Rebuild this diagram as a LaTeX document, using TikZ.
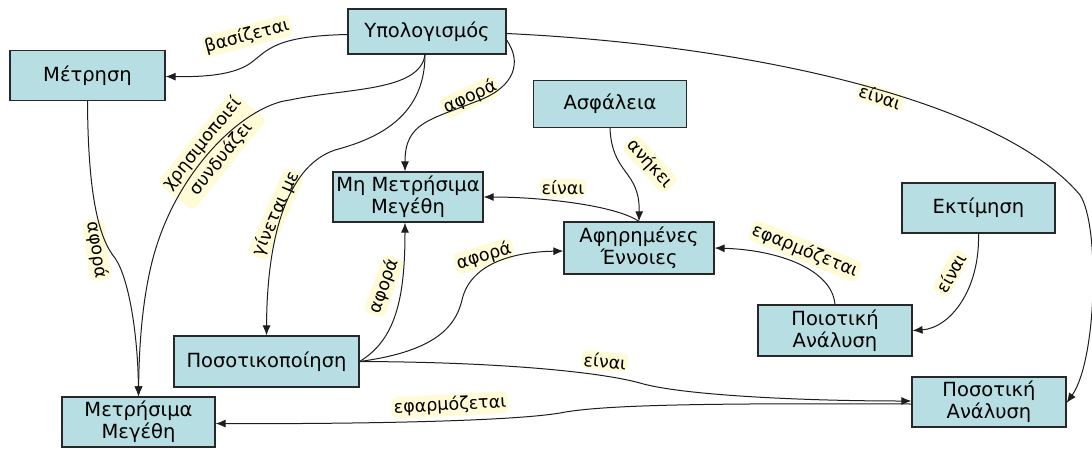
\documentclass[tikz,border=0pt]{standalone}
\usepackage{fontspec}
\setmainfont{DejaVu Sans}
\usetikzlibrary{arrows.meta}
\definecolor{boxfill}{RGB}{183,222,226}
\definecolor{boxline}{RGB}{40,40,40}
\definecolor{glow}{RGB}{255,251,214}
\definecolor{wire}{RGB}{30,30,30}
\tikzset{
  concept/.style={draw=boxline, line width=1.2pt, fill=boxfill, align=center,
    inner sep=0pt, font=\fontsize{19.5}{22}\selectfont},
  rel/.style={fill=glow, rounded corners=5pt, inner sep=2pt, align=center,
    font=\fontsize{17.5}{24}\selectfont},
  arr/.style={draw=wire, line width=1pt, -{Latex[length=10pt,width=8pt]}},
}
\begin{document}
\begin{tikzpicture}[x=1pt,y=-1pt]
\useasboundingbox (0,0) rectangle (1092,448);
\fill[white] (0,0) rectangle (1092,448);

% concepts
\node[concept, minimum width=155pt, minimum height=50pt] (metr)  at (87.5,75.5)  {Μέτρηση};
\node[concept, minimum width=158pt, minimum height=45pt] (ypol)  at (427,31.5)   {Υπολογισμός};
\node[concept, minimum width=153pt, minimum height=47pt] (asf)   at (610,104)    {Ασφάλεια};
\node[concept, minimum width=150pt, minimum height=50pt] (mmm)   at (408,197)    {Μη Μετρήσιμα\\Μεγέθη};
\node[concept, minimum width=150pt, minimum height=52pt] (afe)   at (639,248)    {Αφηρημένες\\Έννοιες};
\node[concept, minimum width=153pt, minimum height=50pt] (ekt)   at (978.5,208)  {Εκτίμηση};
\node[concept, minimum width=154pt, minimum height=51pt] (poi)   at (835,330.5)  {Ποιοτική\\Ανάλυση};
\node[concept, minimum width=154pt, minimum height=50pt] (posan) at (989,402)    {Ποσοτική\\Ανάλυση};
\node[concept, minimum width=185pt, minimum height=51pt] (pos)   at (266.5,361.5){Ποσοτικοποίηση};
\node[concept, minimum width=153pt, minimum height=50pt] (mm)    at (138.5,422)  {Μετρήσιμα\\Μεγέθη};

% relation labels
\node[rel, rotate=15]  (l1)  at (247,36)  {βασίζεται};
\node[rel, rotate=51]  (l2)  at (212,151) {χρησιμοποιεί\\συνδυάζει};
\node[rel, rotate=-82] (l3)  at (97,250)  {αφορά};
\node[rel, rotate=66]  (l4)  at (276,214) {γίνεται με};
\node[rel, rotate=25]  (l5)  at (470,97)  {αφορά};
\node[rel, rotate=-18] (l6)  at (880,97)  {είναι};
\node[rel, rotate=-48] (l7)  at (650,164) {ανήκει};
\node[rel]             (l8)  at (563,188) {είναι};
\node[rel, rotate=70]  (l9)  at (384,286) {αφορά};
\node[rel, rotate=17]  (l10) at (484,256) {αφορά};
\node[rel, rotate=-5]  (l11) at (605,361) {είναι};
\node[rel, rotate=3]   (l12) at (450,405) {εφαρμόζεται};
\node[rel, rotate=-22] (l13) at (805,251) {εφαρμόζεται};
\node[rel, rotate=60]  (l14) at (951,273) {είναι};

% relations
\draw[arr] ([yshift=-3pt]ypol.west) .. controls (275,36) and (268,50) .. (252,62)
  .. controls (235,75) and (205,77) .. ([yshift=-1pt]metr.east);
\draw[arr] ([xshift=-2pt]ypol.south) .. controls (420,92) and (345,88) .. (290,100)
  .. controls (245,105) and (175,170) .. (152,262)
  .. controls (141,306) and (139,355) .. (mm.north);
\draw[arr] (metr.south) .. controls (88,200) and (100,240) .. (115,258)
  .. controls (130,280) and (138,340) .. (mm.north);
\draw[arr] ([xshift=-2pt]ypol.south) .. controls (425,120) and (372,140) .. (335,150)
  .. controls (290,165) and (267,230) .. (pos.north);
\draw[arr] ([yshift=-8.5pt]ypol.east) .. controls (522,62) and (515,86) .. (480,100)
  .. controls (430,120) and (405,122) .. ([xshift=-3pt]mmm.north);
\draw[arr] ([yshift=-2pt]ypol.east) .. controls (750,45) and (1000,100) .. (1080,195)
  .. controls (1100,225) and (1097,360) .. ([yshift=-1pt]posan.east);
\draw[arr] (asf.south) .. controls (612,175) and (640,170) .. (afe.north);
\draw[arr] (afe.north) .. controls (615,205) and (540,197) .. (mmm.east);
\draw[arr] (pos.east) .. controls (395,340) and (405,300) .. ([xshift=-3pt]mmm.south);
\draw[arr] (pos.east) .. controls (430,352) and (455,330) .. (462,300)
  .. controls (470,265) and (510,252) .. ([yshift=-3pt]afe.west);
\draw[arr] (pos.east) .. controls (500,362) and (600,372) .. (640,383)
  .. controls (680,395) and (800,401) .. ([yshift=1pt]posan.west);
\draw[arr] ([yshift=-2pt]posan.west) .. controls (700,403) and (600,405) .. (560,413)
  .. controls (500,423) and (300,424) .. ([yshift=-1.5pt]mm.east);
\draw[arr] (poi.north) .. controls (832,270) and (780,250) .. (afe.east);
\draw[arr] (ekt.south) .. controls (980,290) and (950,328) .. (poi.east);
\end{tikzpicture}
\end{document}
